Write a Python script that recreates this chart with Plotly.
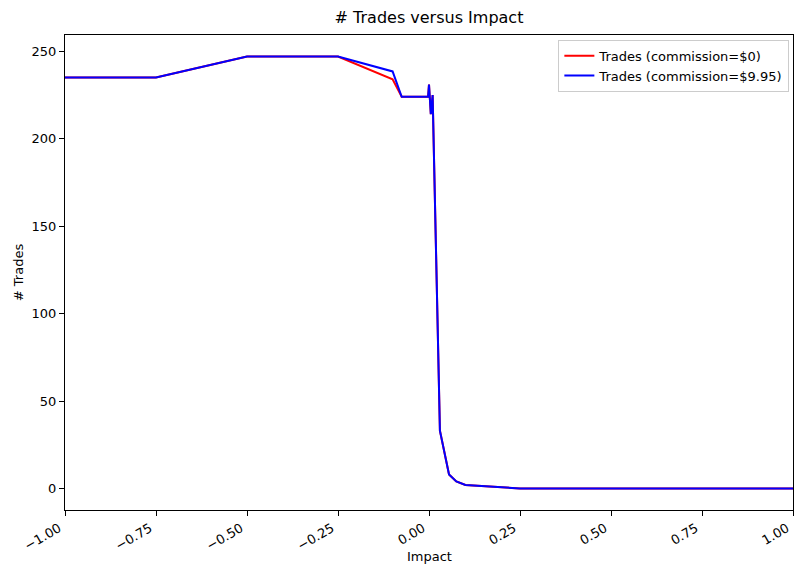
import plotly.graph_objects as go

# Impact values tested and resulting trade counts
impact = [-1.0, -0.75, -0.5, -0.25, -0.1, -0.075, -0.05, -0.025, -0.01, -0.0025,
          0.0, 0.005, 0.01, 0.03, 0.055, 0.075, 0.1, 0.25, 0.5, 0.75, 1.0]
trades_no_comm = [235, 235, 247, 247, 234, 224, 224, 224, 224, 224,
                  231, 214, 225, 33, 8, 4, 2, 0, 0, 0, 0]
trades_comm = [235, 235, 247, 247, 238.5, 224, 224, 224, 224, 224,
               231, 214, 225, 33, 8, 4, 2, 0, 0, 0, 0]

x_ticks = [-1.0, -0.75, -0.5, -0.25, 0.0, 0.25, 0.5, 0.75, 1.0]
y_ticks = [0, 50, 100, 150, 200, 250]

FONT = "DejaVu Sans"

fig = go.Figure()
fig.add_trace(go.Scatter(x=impact, y=trades_no_comm, mode="lines",
                         name="Trades (commission=$0)",
                         line=dict(color="#ff0000", width=2)))
fig.add_trace(go.Scatter(x=impact, y=trades_comm, mode="lines",
                         name="Trades (commission=$9.95)",
                         line=dict(color="#0000ff", width=2)))

axis_common = dict(showline=True, linecolor="black", linewidth=1, mirror=True,
                   ticks="outside", ticklen=5, tickcolor="black", showgrid=False,
                   zeroline=False, automargin=False,
                   tickfont=dict(family=FONT, size=13, color="black"))

fig.update_layout(
    width=794, height=566,
    margin=dict(l=65, r=1, t=35, b=56),
    paper_bgcolor="white", plot_bgcolor="white",
    title=dict(text="# Trades versus Impact", x=0.5, xref="paper", y=1, yref="container",
               yanchor="top", pad=dict(t=12),
               font=dict(family=FONT, size=16, color="black")),
    # slanted labels sit just left of their ticks
    xaxis=dict(range=[-1, 1], tickvals=x_ticks, tickformat=".2f", tickangle=-30,
               ticklabelshift=-6, ticklabeloverflow="allow", **axis_common),
    yaxis=dict(range=[-12.35, 259.35], tickvals=y_ticks,
               title=dict(text="# Trades", standoff=5,
                          font=dict(family=FONT, size=13, color="black")),
               **axis_common),
    legend=dict(x=0.995, y=0.99, xanchor="right", yanchor="top",
                bgcolor="rgba(255,255,255,0.8)", bordercolor="#cccccc", borderwidth=1,
                font=dict(family=FONT, size=13, color="black"),
                tracegroupgap=0, itemwidth=30),
    annotations=[dict(text="Impact", x=0.5, xref="paper", y=-(556 - 510) / 475,
                      yref="paper", yanchor="middle", showarrow=False,
                      font=dict(family=FONT, size=13, color="black"))],
)

fig.write_html("out.html")
